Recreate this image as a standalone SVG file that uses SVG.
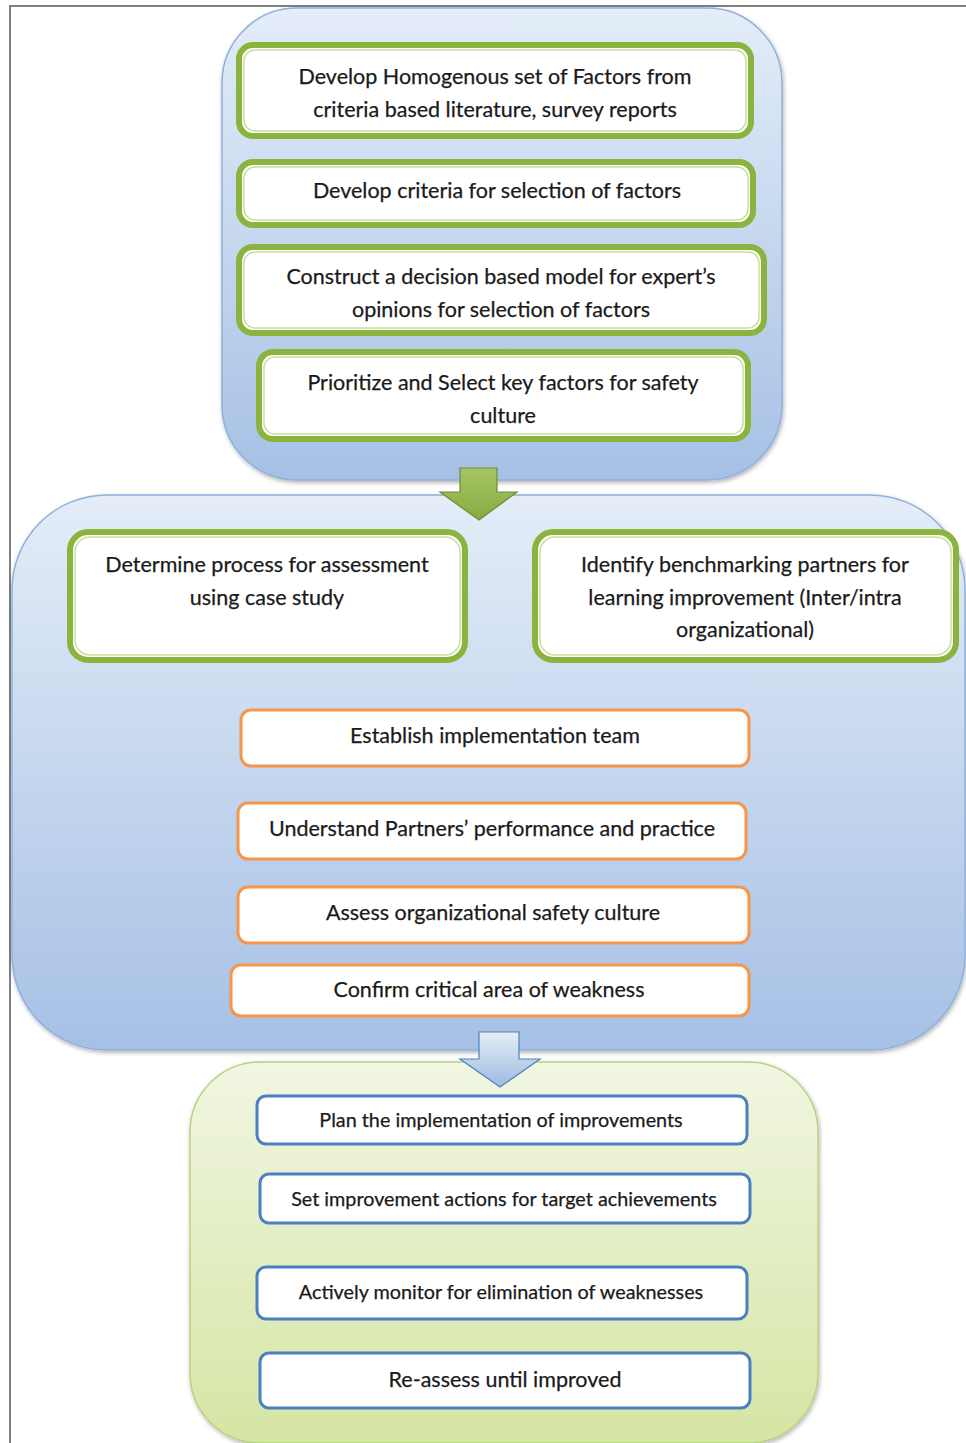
<svg xmlns="http://www.w3.org/2000/svg" width="966" height="1443" viewBox="0 0 966 1443">
<defs>
<linearGradient id="gBlue" x1="0" y1="0" x2="0" y2="1">
<stop offset="0" stop-color="#e4edf8"/><stop offset="1" stop-color="#a6c0e5"/>
</linearGradient>
<linearGradient id="gGreen" x1="0" y1="0" x2="0" y2="1">
<stop offset="0" stop-color="#f1f6e2"/><stop offset="1" stop-color="#d5e5a4"/>
</linearGradient>
<linearGradient id="gArrG" x1="0" y1="0" x2="0" y2="1">
<stop offset="0" stop-color="#a6c566"/><stop offset="1" stop-color="#87ab3f"/>
</linearGradient>
<linearGradient id="gArrB" x1="0" y1="0" x2="0" y2="1">
<stop offset="0" stop-color="#e6eef8"/><stop offset="1" stop-color="#9dbae0"/>
</linearGradient>
<filter id="sh" x="-5%" y="-5%" width="110%" height="110%">
<feDropShadow dx="1" dy="2" stdDeviation="2" flood-color="#000" flood-opacity="0.3"/>
</filter>
</defs>
<style>
.cont{stroke:#8eb0dc;stroke-width:1.5;filter:url(#sh)}
.gOut{fill:#fff;stroke:#8ab43e;stroke-width:6}
.gIn{fill:none;stroke:#c9df9e;stroke-width:1.5}
.org{fill:#fff;stroke:#f7954a;stroke-width:3}
.blu{fill:#fff;stroke:#4a7fc1;stroke-width:3}
text{font-family:Lato,"Open Sans","Liberation Sans",sans-serif;fill:#1a1a1a;text-anchor:middle;stroke:#1a1a1a;stroke-width:0.25}
.t20{font-size:21.5px}
.t18{font-size:19.8px}
</style>
<rect x="0" y="0" width="966" height="1443" fill="#fff"/>
<path d="M10 1443 V6 H966" fill="none" stroke="#7f7f7f" stroke-width="2"/>

<g id="container-top"><rect class="cont" x="222" y="8" width="560" height="472" rx="75" fill="url(#gBlue)"/></g>
<g id="container-mid"><rect class="cont" x="12" y="495" width="953" height="555" rx="95" fill="url(#gBlue)"/></g>
<g id="container-bot"><rect x="190" y="1062" width="628" height="381" rx="70" fill="url(#gGreen)" stroke="#b8d37f" stroke-width="1.5" filter="url(#sh)"/></g>

<g id="connectors">
<path d="M460 468 H497 V492 H517 L479 520 L440 492 H460 Z" fill="url(#gArrG)" stroke="#6f8c35" stroke-width="1.2"/>
<path d="M479 1032 H519 V1059 H540 L500 1087 L460 1059 H479 Z" fill="url(#gArrB)" stroke="#4f81bd" stroke-width="1.2"/>
</g>

<g id="n1"><rect class="gOut" x="239" y="45" width="512" height="91" rx="14"/><rect class="gIn" x="244" y="50" width="502" height="81" rx="11"/>
<text class="t20" x="495" y="84">Develop Homogenous set of Factors from</text><text class="t20" x="495" y="117">criteria based literature, survey reports</text></g>
<g id="n2"><rect class="gOut" x="239" y="162" width="514" height="63" rx="14"/><rect class="gIn" x="244" y="167" width="504" height="53" rx="11"/>
<text class="t20" x="497" y="198">Develop criteria for selection of factors</text></g>
<g id="n3"><rect class="gOut" x="239" y="247" width="525" height="86" rx="14"/><rect class="gIn" x="244" y="252" width="515" height="76" rx="11"/>
<text class="t20" x="501" y="284">Construct a decision based model for expert’s</text><text class="t20" x="501" y="317">opinions for selection of factors</text></g>
<g id="n4"><rect class="gOut" x="259" y="352" width="489" height="87" rx="14"/><rect class="gIn" x="264" y="357" width="479" height="77" rx="11"/>
<text class="t20" x="503" y="390">Prioritize and Select key factors for safety</text><text class="t20" x="503" y="423">culture</text></g>

<g id="n5"><rect class="gOut" x="70" y="532" width="395" height="128" rx="18"/><rect class="gIn" x="75" y="537" width="385" height="118" rx="15"/>
<text class="t20" x="267" y="572">Determine process for assessment</text><text class="t20" x="267" y="605">using case study</text></g>
<g id="n6"><rect class="gOut" x="535" y="532" width="421" height="128" rx="18"/><rect class="gIn" x="540" y="537" width="411" height="118" rx="15"/>
<text class="t20" x="745" y="572">Identify benchmarking partners for</text><text class="t20" x="745" y="605">learning improvement (Inter/intra</text><text class="t20" x="745" y="637">organizational)</text></g>

<g id="n7"><rect class="org" x="241" y="710" width="508" height="56" rx="10"/><text class="t20" x="495" y="743">Establish implementation team</text></g>
<g id="n8"><rect class="org" x="238" y="803" width="508" height="56" rx="10"/><text class="t20" x="492" y="836">Understand Partners’ performance and practice</text></g>
<g id="n9"><rect class="org" x="238" y="887" width="511" height="56" rx="10"/><text class="t20" x="493" y="920">Assess organizational safety culture</text></g>
<g id="n10"><rect class="org" x="231" y="965" width="518" height="51" rx="10"/><text class="t20" x="489" y="997">Confirm critical area of weakness</text></g>

<g id="n11"><rect class="blu" x="257" y="1096" width="490" height="48" rx="9"/><text class="t18" x="501" y="1127">Plan the implementation of improvements</text></g>
<g id="n12"><rect class="blu" x="260" y="1174" width="490" height="49" rx="9"/><text class="t18" x="504" y="1206">Set improvement actions for target achievements</text></g>
<g id="n13"><rect class="blu" x="257" y="1267" width="490" height="52" rx="9"/><text class="t18" x="501" y="1299">Actively monitor for elimination of weaknesses</text></g>
<g id="n14"><rect class="blu" x="260" y="1353" width="490" height="55" rx="9"/><text class="t20" x="505" y="1387">Re-assess until improved</text></g>
</svg>
